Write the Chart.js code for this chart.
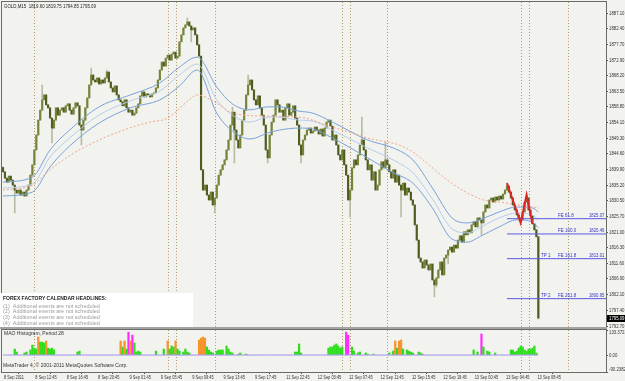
<!DOCTYPE html>
<html>
<head>
<meta charset="utf-8">
<script src="https://cdn.jsdelivr.net/npm/chart.js@4.4.0/dist/chart.umd.min.js"></script>
<style>
    html, body { margin: 0; padding: 0; background: #f2f2ee; }
    #wrap { position: relative; width: 625px; height: 381px; overflow: hidden; }
    #main { position: absolute; left: 0; top: 0; }
    #ind { position: absolute; left: 0; top: 329px; }
</style>
</head>
<body>
<div id="wrap">
    <canvas id="main" width="625" height="329"></canvas>
    <canvas id="ind" width="625" height="52"></canvas>
</div>
<script>
// --- Data (GOLD M15) ---
const firstOpen = 1840.5;
const closes = [
    1839.2, 1837.3, 1836.1, 1837.9, 1836.7, 1835.2, 1833.7, 1832.8, 1833.7, 1832.2,
    1833.1, 1831.9, 1833.7, 1835.2, 1838.2, 1841.3, 1845.8, 1850.3, 1854.8, 1857.8,
    1860.9, 1862.4, 1859.4, 1858.5, 1855.4, 1852.4, 1854.8, 1858.5, 1856.3, 1857.8,
    1858.5, 1857.2, 1859.1, 1859.7, 1857.8, 1856.6, 1858.5, 1860.0, 1859.1, 1853.3,
    1851.8, 1854.8, 1858.5, 1861.5, 1865.4, 1868.4, 1866.9, 1866.3, 1867.5, 1865.7,
    1866.9, 1866.0, 1867.5, 1869.3, 1866.3, 1864.5, 1863.3, 1865.1, 1862.4, 1860.9,
    1860.3, 1859.1, 1860.9, 1858.5, 1857.2, 1857.8, 1856.3, 1856.9, 1858.5, 1859.7,
    1862.1, 1863.3, 1861.8, 1862.7, 1862.4, 1861.8, 1862.7, 1863.0, 1864.5, 1866.9,
    1869.9, 1872.3, 1871.1, 1873.5, 1874.4, 1872.9, 1874.7, 1875.3, 1873.5, 1874.1,
    1878.4, 1880.5, 1882.6, 1883.5, 1884.4, 1883.2, 1882.0, 1882.6, 1880.5, 1877.5,
    1874.1, 1839.8, 1833.7, 1835.2, 1832.2, 1830.7, 1833.1, 1829.2, 1831.3, 1835.2,
    1838.2, 1839.8, 1841.3, 1842.8, 1845.8, 1848.8, 1853.3, 1857.2, 1851.8, 1848.8,
    1846.4, 1850.3, 1854.8, 1857.8, 1862.4, 1865.4, 1866.9, 1863.9, 1860.9, 1859.4,
    1862.1, 1858.5, 1856.3, 1853.3, 1845.8, 1843.4, 1850.3, 1854.2, 1856.3, 1860.9,
    1859.4, 1857.2, 1857.8, 1854.8, 1858.5, 1859.7, 1856.3, 1857.2, 1859.1, 1855.4,
    1853.3, 1847.3, 1844.3, 1848.8, 1850.3, 1851.8, 1852.4, 1850.9, 1851.5, 1852.7,
    1851.8, 1850.6, 1852.1, 1850.0, 1852.4, 1854.2, 1854.8, 1853.0, 1848.8, 1850.3,
    1847.3, 1844.3, 1842.8, 1845.8, 1841.3, 1838.2, 1830.7, 1833.7, 1840.4, 1842.8,
    1841.3, 1844.3, 1847.3, 1848.8, 1845.8, 1842.8, 1839.8, 1841.3, 1836.7, 1839.2,
    1833.7, 1835.2, 1839.8, 1842.2, 1840.4, 1842.8, 1841.3, 1839.2, 1837.3, 1839.8,
    1836.1, 1838.2, 1835.2, 1833.7, 1835.8, 1832.2, 1834.3, 1833.1, 1830.7, 1829.2,
    1823.2, 1818.6, 1813.2, 1812.0, 1810.2, 1812.6, 1811.1, 1809.6, 1811.4, 1806.6,
    1805.1, 1807.2, 1809.6, 1812.0, 1808.1, 1813.2, 1814.1, 1815.6, 1816.5, 1815.0,
    1817.1, 1816.2, 1818.6, 1819.9, 1818.0, 1821.1, 1820.2, 1821.7, 1820.8, 1823.2,
    1824.1, 1822.6, 1825.3, 1824.7, 1823.8, 1827.1, 1829.2, 1828.3, 1830.7, 1831.3,
    1830.1, 1831.6, 1830.7, 1831.9, 1831.0, 1832.5, 1833.7, 1834.9, 1833.1, 1831.3,
    1829.2, 1827.7, 1826.2, 1825.3, 1824.7, 1827.1, 1830.1, 1831.3, 1827.7, 1825.9,
    1823.5, 1821.7, 1819.6, 1795.09
];
// wicks that stick out of the body: [bar, price]
const highSpikes = [[0, 1840.7], [20, 1865.4], [45, 1870.5], [53, 1869.9], [94, 1885.6], [117, 1858.7],
    [125, 1868.4], [183, 1855.7], [195, 1848.2], [257, 1835.8], [267, 1832.2], [273, 1819.75]];
const lowSpikes = [[6, 1826.8], [25, 1847.9], [40, 1847.3], [96, 1878.4], [108, 1826.8], [118, 1841.9],
    [135, 1841.9], [152, 1841.9], [177, 1825.6], [203, 1825.6], [220, 1801.5], [221, 1804.5],
    [227, 1811.4], [244, 1820.2], [264, 1823.8], [273, 1794.85]];

// envelope / moving averages: [bar, price]
const upperBand = [[0, 1836.1], [15, 1837.6], [24, 1845.8], [34, 1851.8], [49, 1858.8], [65, 1862.4], [80, 1866.0],
    [90, 1870.8], [99, 1873.8], [109, 1864.8], [117, 1859.7], [126, 1857.9], [135, 1858.8], [141, 1858.8],
    [151, 1857.5], [158, 1856.9], [168, 1854.2], [186, 1848.8], [199, 1846.4], [209, 1842.8], [219, 1834.3],
    [229, 1825.3], [237, 1823.8], [243, 1824.7], [253, 1827.1], [262, 1828.6], [270, 1828.3], [273, 1827.1]];
const middleBand = [[0, 1834.3], [15, 1835.5], [24, 1843.7], [34, 1849.4], [49, 1856.3], [65, 1860.6], [80, 1863.6],
    [90, 1868.4], [99, 1871.7], [109, 1860.9], [117, 1856.3], [126, 1854.2], [135, 1855.7], [141, 1855.7],
    [151, 1854.8], [158, 1854.5], [168, 1851.8], [186, 1846.4], [199, 1842.8], [209, 1838.9], [219, 1831.0],
    [229, 1822.0], [237, 1820.8], [243, 1822.3], [253, 1825.3], [262, 1826.8], [270, 1826.2], [273, 1824.7]];
const lowerBand = [[0, 1831.9], [15, 1833.1], [24, 1840.7], [34, 1847.0], [49, 1853.9], [65, 1858.5], [80, 1860.9],
    [90, 1865.1], [99, 1869.9], [109, 1856.9], [117, 1851.5], [126, 1849.1], [135, 1850.9], [141, 1851.8],
    [151, 1852.4], [158, 1852.1], [168, 1849.4], [186, 1843.4], [199, 1838.9], [209, 1835.8], [219, 1828.3],
    [229, 1818.9], [237, 1818.0], [243, 1819.6], [253, 1822.6], [262, 1824.7], [270, 1824.1], [273, 1822.3]];
const slowMA = [[0, 1833.7], [15, 1835.2], [24, 1839.8], [33, 1843.7], [49, 1848.8], [66, 1852.7], [75, 1854.2],
    [84, 1855.4], [95, 1860.9], [99, 1862.4], [109, 1859.9], [117, 1856.9], [135, 1856.0], [151, 1855.7],
    [168, 1852.7], [178, 1850.9], [186, 1849.4], [202, 1847.3], [209, 1845.2], [216, 1841.9], [228, 1836.1],
    [237, 1832.8], [245, 1830.7], [253, 1830.1], [270, 1828.6], [273, 1828.3]];
const zigzag = [[257, 1835.8], [264, 1823.8], [267, 1832.2], [270, 1823.5]];

// Fibonacci expansion
const fibStart = 257;
const fibLevels = [1825.07, 1820.46, 1813.01, 1800.95];
const fibNames = ['FE 61.8', 'FE 100.0', 'FE 161.8', 'FE 261.8'];
const tpNames = ['', '', 'TP 1', 'TP 2'];

// calendar event markers (bar index)
const eventBars = [16, 84, 88, 108, 173, 177, 196, 264, 268, 288];

// MAO histogram: [bar, value]
const histo = [[6, 32], [7, 16], [11, 11], [12, 16], [14, 27], [15, 53], [16, 37], [17, 32], [18, 96], [19, 69],
    [20, 69], [21, 64], [22, 75], [23, 37], [24, 32], [25, 37], [26, 27], [38, 16], [39, 21], [60, 75], [61, 43],
    [62, 75], [63, 32], [64, 122], [65, 75], [66, 106], [67, 64], [68, 16], [69, 21], [70, 16], [78, 21], [82, 32],
    [84, 75], [85, 32], [86, 48], [87, 43], [88, 75], [89, 32], [90, 21], [92, 16], [93, 32], [94, 16], [95, 11],
    [100, 80], [101, 90], [102, 96], [103, 90], [104, 43], [105, 27], [106, 16], [107, 11], [109, 21], [110, 27],
    [111, 27], [112, 27], [114, 48], [115, 32], [116, 16], [117, 11], [120, 5], [121, 11], [124, 5], [149, 16],
    [150, 16], [151, 59], [152, 11], [166, 37], [167, 43], [168, 43], [169, 53], [170, 59], [171, 48], [172, 37],
    [173, 43], [175, 122], [176, 106], [178, 43], [179, 21], [181, 11], [182, 16], [185, 11], [186, 5], [189, 5],
    [197, 11], [199, 21], [200, 75], [201, 37], [202, 75], [203, 80], [204, 32], [206, 27], [207, 21], [208, 16],
    [209, 11], [212, 16], [213, 11], [214, 5], [240, 27], [242, 16], [244, 112], [245, 43], [247, 21], [248, 16],
    [251, 11], [259, 27], [260, 27], [261, 16], [262, 21], [263, 37], [264, 48], [265, 43], [266, 27], [267, 21],
    [268, 32], [269, 32], [270, 37], [271, 48], [272, 11]];

const priceTicks = [1887.10, 1882.40, 1877.70, 1872.90, 1868.20, 1863.50, 1858.80, 1854.10, 1849.30, 1844.60,
    1839.90, 1835.20, 1830.50, 1825.70, 1821.00, 1816.30, 1811.60, 1806.90, 1802.10, 1797.40, 1792.70];
const indTicks = [133.3723, 0, -90.2382];
const timeLabels = ['8 Sep 2011', '8 Sep 12:45', '8 Sep 16:45', '8 Sep 20:45', '9 Sep 01:45', '9 Sep 05:45',
    '9 Sep 09:45', '9 Sep 13:45', '9 Sep 17:45', '11 Sep 22:45', '12 Sep 03:45', '12 Sep 07:45', '12 Sep 11:45',
    '12 Sep 15:45', '12 Sep 19:45', '13 Sep 00:45', '13 Sep 04:45', '13 Sep 08:45'];
const barsPerLabel = 16;
const ffLines = ['(1)  Additional events are not scheduled', '(2)  Additional events are not scheduled',
    '(3)  Additional events are not scheduled', '(4)  Additional events are not scheduled'];

// --- Build candles ---
const opens = closes.map((c, i) => i === 0 ? firstOpen : closes[i - 1]);
const highs = closes.map((c, i) => Math.max(c, opens[i]));
const lows = closes.map((c, i) => Math.min(c, opens[i]));
highSpikes.forEach(([i, v]) => { highs[i] = v; });
lowSpikes.forEach(([i, v]) => { lows[i] = v; });

const toXY = arr => arr.map(([x, y]) => ({ x, y }));
const last = closes.length - 1;
const X_MAX = 307.5;

const SANS = '"Liberation Sans", Arial, sans-serif';
Chart.defaults.font.family = SANS;
Chart.defaults.color = '#333';

// squeezed text, MT4 fonts are narrow
function squeezed(ctx, text, x, y, sx) {
    ctx.save();
    ctx.translate(x, y);
    ctx.scale(sx, 1);
    ctx.fillText(text, 0, 0);
    ctx.restore();
}

function dotted(chart) {
    const { ctx, chartArea: a, scales: { x } } = chart;
    ctx.save();
    ctx.strokeStyle = '#b39a6a';
    ctx.lineWidth = 1;
    ctx.setLineDash([1, 2]);
    eventBars.forEach(i => {
        const px = Math.round(x.getPixelForValue(i)) + 0.5;
        ctx.beginPath();
        ctx.moveTo(px, a.top);
        ctx.lineTo(px, a.bottom);
        ctx.stroke();
    });
    ctx.restore();
}

function frame(chart) {
    const { ctx, chartArea: a } = chart;
    ctx.save();
    ctx.strokeStyle = '#6a6a6a';
    ctx.lineWidth = 1;
    ctx.strokeRect(a.left - 0.5, a.top - 0.5, a.right - a.left + 1, a.bottom - a.top + 1);
    ctx.restore();
}

const mainOverlay = {
    id: 'mainOverlay',
    beforeDatasetsDraw: dotted,
    afterDraw(chart) {
        const { ctx, chartArea: a, scales: { y } } = chart;
        frame(chart);
        ctx.save();
        // panel separator
        ctx.fillStyle = '#a4a4a4';
        ctx.fillRect(0, a.bottom, a.right + 1, 2);

        // price axis labels
        ctx.fillStyle = '#333';
        ctx.font = '5.5px ' + SANS;
        ctx.textBaseline = 'middle';
        priceTicks.forEach(v => squeezed(ctx, v.toFixed(2), a.right + 3, y.getPixelForValue(v), 0.78));

        // header
        ctx.fillStyle = '#222';
        ctx.font = '5.5px ' + SANS;
        squeezed(ctx, 'GOLD,M15  ' + [opens[last], highs[last], lows[last], closes[last]].map(v => v.toFixed(2)).join(' '), 4, 6, 0.8);

        // fib labels
        ctx.fillStyle = '#3535c8';
        ctx.textBaseline = 'bottom';
        ctx.font = '5px ' + SANS;
        fibLevels.forEach((v, k) => {
            const py = Math.round(y.getPixelForValue(v));
            if (tpNames[k]) squeezed(ctx, tpNames[k], 541, py - 1, 0.9);
            squeezed(ctx, fibNames[k], 558, py - 1, 0.9);
            squeezed(ctx, v.toFixed(2), 589, py - 1, 0.85);
        });

        // current price box
        const cy = Math.round(y.getPixelForValue(closes[last]));
        ctx.fillStyle = '#000';
        ctx.fillRect(a.right + 1, cy - 3, 19, 7);
        ctx.fillStyle = '#fff';
        ctx.textBaseline = 'middle';
        ctx.font = '5.5px ' + SANS;
        squeezed(ctx, closes[last].toFixed(2), a.right + 3, cy + 0.5, 0.78);

        // forex factory box
        ctx.fillStyle = '#ffffff';
        ctx.fillRect(0, 293, 193, a.bottom - 293);
        ctx.fillStyle = '#1e1e1e';
        ctx.font = 'bold 5px ' + SANS;
        ctx.fillText('FOREX FACTORY CALENDAR HEADLINES:', 3, 299);
        ctx.fillStyle = '#9a9a9a';
        ctx.font = '5.5px ' + SANS;
        ffLines.forEach((t, k) => ctx.fillText(t, 3, 306 + k * 5.7));
        ctx.restore();
    }
};

const indOverlay = {
    id: 'indOverlay',
    beforeDatasetsDraw: dotted,
    afterDraw(chart) {
        const { ctx, chartArea: a, scales: { x, y } } = chart;
        frame(chart);
        ctx.save();
        ctx.fillStyle = '#333';
        ctx.font = '5px ' + SANS;
        ctx.textBaseline = 'middle';
        ctx.fillText('MAO Histogram, Period 28', 4, 5);
        ctx.fillText('MetaTrader 4, \u00A9 2001-2011 MetaQuotes Software Corp.', 3, 37);

        // time axis labels
        ctx.font = '5.5px ' + SANS;
        ctx.textBaseline = 'middle';
        timeLabels.forEach((t, k) => squeezed(ctx, t, x.getPixelForValue(k * barsPerLabel) + 1, a.bottom + 5, 0.72));

        // value axis labels
        indTicks.forEach((v, k) => {
            ctx.textBaseline = k === 0 ? 'top' : (k === indTicks.length - 1 ? 'bottom' : 'middle');
            squeezed(ctx, v === 0 ? '0.00' : v.toFixed(4), a.right + 3, y.getPixelForValue(v), 0.78);
        });
        ctx.restore();
    }
};

// --- Main price chart ---
new Chart(document.getElementById('main'), {
    type: 'bar',
    data: {
        datasets: [
            { type: 'line', data: toXY(zigzag), borderColor: '#e02525', borderWidth: 2, pointRadius: 0, tension: 0 },
            ...fibLevels.map(v => ({
                type: 'line', data: [{ x: fibStart, y: v }, { x: X_MAX, y: v }],
                borderColor: '#5a5ae2', borderWidth: 1, pointRadius: 0
            })),
            { type: 'line', data: toXY(slowMA), borderColor: '#f3a485', borderWidth: 1, borderDash: [2, 2], pointRadius: 0, cubicInterpolationMode: 'monotone' },
            { type: 'line', data: toXY(upperBand), borderColor: '#78a2da', borderWidth: 1, pointRadius: 0, cubicInterpolationMode: 'monotone' },
            { type: 'line', data: toXY(middleBand), borderColor: '#b6cdea', borderWidth: 1, pointRadius: 0, cubicInterpolationMode: 'monotone' },
            { type: 'line', data: toXY(lowerBand), borderColor: '#78a2da', borderWidth: 1, pointRadius: 0, cubicInterpolationMode: 'monotone' },
            {
                data: closes.map((c, i) => ({ x: i, y: [opens[i], c] })),
                backgroundColor: closes.map((c, i) => c >= opens[i] ? '#76843a' : '#4e5c20'),
                barThickness: 1.5, grouped: false, minBarLength: 1
            },
            {
                data: closes.map((c, i) => ({ x: i, y: [lows[i], highs[i]] })),
                backgroundColor: '#b8bca4',
                barThickness: 1, grouped: false
            }
        ]
    },
    options: {
        responsive: false,
        animation: false,
        events: [],
        layout: { padding: { left: 2, top: 2, right: 0, bottom: 2 } },
        plugins: { legend: { display: false }, tooltip: { enabled: false } },
        scales: {
            x: { type: 'linear', display: false, min: -0.5, max: X_MAX, offset: false },
            y: {
                position: 'right',
                min: 1792.40,
                max: 1890.42,
                afterFit(s) { s.width = 19; },
                afterBuildTicks(s) { s.ticks = priceTicks.map(v => ({ value: v })); },
                ticks: { display: false },
                grid: { drawOnChartArea: false, tickLength: 2, color: '#555' },
                border: { color: '#555' }
            }
        }
    },
    plugins: [mainOverlay]
});

// --- Indicator panel ---
new Chart(document.getElementById('ind'), {
    type: 'bar',
    data: {
        datasets: [
            { type: 'line', data: [{ x: 0, y: 0 }, { x: last, y: 0 }], borderColor: '#a192f2', borderWidth: 1, pointRadius: 0 },
            {
                data: toXY(histo),
                backgroundColor: histo.map(([, v]) => v >= 100 ? '#ff30ff' : (v >= 72 ? '#f7942c' : '#30dc1e')),
                barThickness: 1.6, grouped: false
            }
        ]
    },
    options: {
        responsive: false,
        animation: false,
        events: [],
        layout: { padding: { left: 2, top: 1, right: 0, bottom: 0 } },
        plugins: { legend: { display: false }, tooltip: { enabled: false } },
        scales: {
            x: {
                type: 'linear', min: -0.5, max: X_MAX, offset: false,
                afterFit(s) { s.height = 9; },
                afterBuildTicks(s) { s.ticks = timeLabels.map((t, k) => ({ value: k * barsPerLabel })); },
                ticks: { display: false },
                grid: { drawOnChartArea: false, tickLength: 2, color: '#555' },
                border: { display: false }
            },
            y: {
                position: 'right',
                min: -90.2382,
                max: 133.3723,
                afterFit(s) { s.width = 19; },
                afterBuildTicks(s) { s.ticks = indTicks.map(v => ({ value: v })); },
                ticks: { display: false },
                grid: { drawOnChartArea: false, tickLength: 2, color: '#555' },
                border: { color: '#555' }
            }
        }
    },
    plugins: [indOverlay]
});
</script>
</body>
</html>
